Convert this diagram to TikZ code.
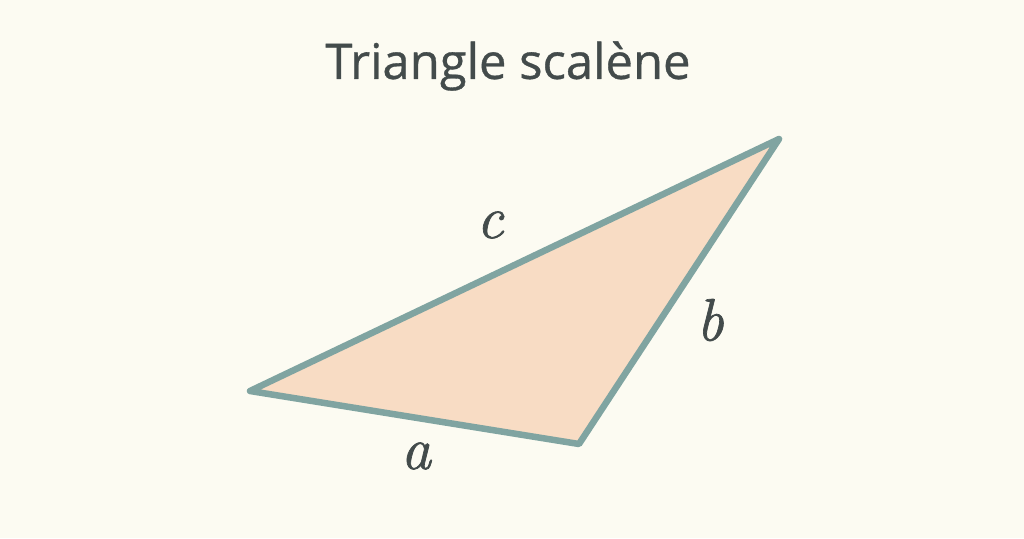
\documentclass[tikz,border=0pt]{standalone}
\usepackage{fontspec}
\setmainfont{Latin Modern Roman}
\newfontfamily\titlefont[FakeBold=0.7]{Open Sans}
\newfontfamily\labelfont[FakeBold=1.2]{Latin Modern Roman}
\usepackage{tikz}
\usetikzlibrary{positioning}

\definecolor{paper}{HTML}{FCFBF2}
\definecolor{edgegrey}{HTML}{80A4A1}
\definecolor{peach}{HTML}{F8DCC4}
\definecolor{inkgrey}{HTML}{434B4B}

\begin{document}
\begin{tikzpicture}[x=1pt,y=-1pt]

	\tikzstyle triangle lines=[draw=edgegrey, line width=6.5pt, line join=round, fill=peach];
	\tikzstyle side label=[text=inkgrey, font=\labelfont\itshape\fontsize{60}{64}\selectfont, inner sep=0pt];
	\tikzstyle title=[text=inkgrey, font=\titlefont\fontsize{49}{56}\selectfont, inner sep=0pt];

	\fill[paper] (0,0) rectangle (1024,538);
	\useasboundingbox (0,0) rectangle (1024,538);

	\node[title] (heading) at (508,66) {Triangle scalène};

	% vertices
	\coordinate (A) at (250,391);
	\coordinate (B) at (579,444);
	\coordinate (C) at (779,139);

	\draw[triangle lines] (A) -- (B) -- (C) -- cycle;

	\node[side label] (a) at (416,456) {a};
	\node[side label] (b) at (710,320) {b};
	\node[side label] (c) at (490,225) {c};

\end{tikzpicture}
\end{document}
